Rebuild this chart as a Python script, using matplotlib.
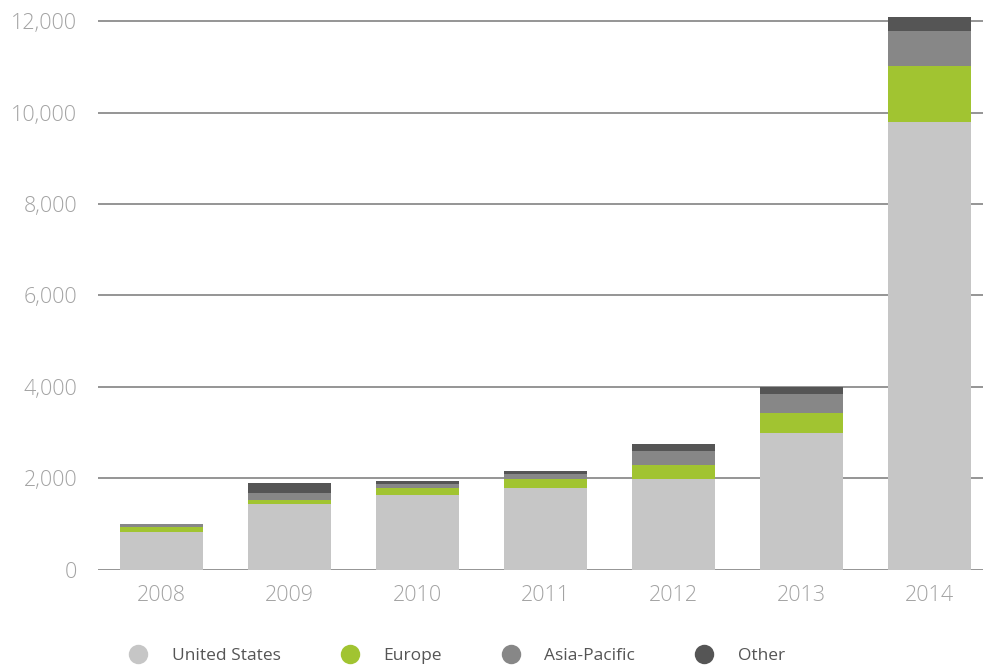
import matplotlib.pyplot as plt
from matplotlib.lines import Line2D
from matplotlib.ticker import FuncFormatter

years = ['2008', '2009', '2010', '2011', '2012', '2013', '2014']
united_states = [820, 1440, 1630, 1790, 1980, 2985, 9805]
europe = [110, 80, 150, 190, 305, 435, 1225]
asia_pacific = [60, 150, 90, 110, 305, 415, 765]
other = [10, 220, 65, 65, 155, 160, 305]

series = [
    ('United States', united_states, '#c6c6c6'),
    ('Europe', europe, '#a1c431'),
    ('Asia-Pacific', asia_pacific, '#878787'),
    ('Other', other, '#555555'),
]

plt.rcParams['font.family'] = ['Open Sans', 'DejaVu Sans']

fig = plt.figure(figsize=(9.83, 6.70), dpi=100)
ax = fig.add_axes([98 / 983, 100.5 / 670, 1 - 98 / 983, (670 - 12.3 - 100.5) / 670])

x = range(len(years))
bottom = [0] * len(years)
for name, vals, color in series:
    ax.bar(x, vals, width=0.65, bottom=bottom, color=color, label=name, zorder=3)
    bottom = [b + v for b, v in zip(bottom, vals)]

ax.set_xlim(-0.496, 6.418)
ax.set_ylim(0, 12200)
ax.set_yticks(range(0, 12001, 2000))
ax.yaxis.set_major_formatter(FuncFormatter(lambda v, p: f'{int(v):,}'))
ax.set_xticks(list(x))
ax.set_xticklabels(years)

ax.grid(axis='y', color='#8c8c8c', linewidth=1.3, zorder=0)
for s in ax.spines.values():
    s.set_visible(False)
ax.tick_params(axis='both', length=0, labelsize=15.5, labelcolor='#a3a3a3')
ax.tick_params(axis='y', pad=15)
ax.tick_params(axis='x', pad=11)
for lbl in ax.get_xticklabels() + ax.get_yticklabels():
    lbl.set_fontweight('light')

handles = [Line2D([], [], marker='o', linestyle='', markersize=14, color=c,
                  markeredgewidth=0) for _, _, c in series]
fig.legend(handles, [n for n, _, _ in series], loc='center left',
           bbox_to_anchor=(114 / 983, 14 / 670), ncol=4, frameon=False,
           fontsize=12.5, labelcolor='#555555', handletextpad=1.45,
           columnspacing=3.45, handlelength=1.0)

plt.savefig('out.png', dpi=100)
